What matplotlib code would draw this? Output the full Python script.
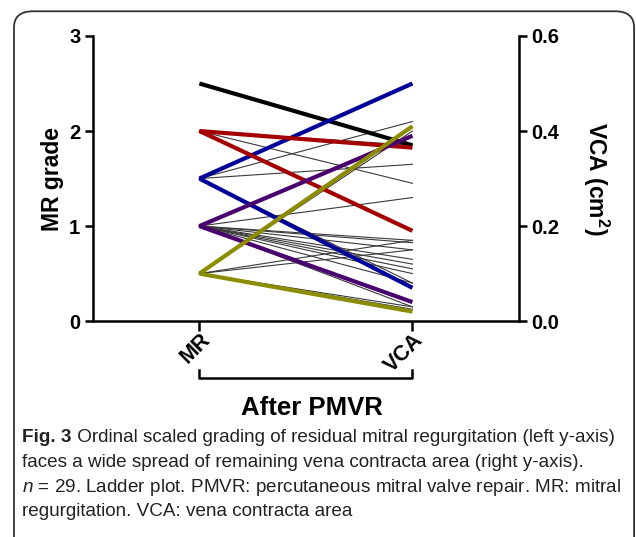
import numpy as np
import matplotlib
matplotlib.use("agg")
import matplotlib.pyplot as plt
from matplotlib.patches import FancyBboxPatch

# MR grade (left axis) -> VCA in cm^2 (right axis), one row per patient
thick_mr = [2.5, 1.5, 1.5, 2.0, 2.0, 1.0, 1.0, 0.5, 0.5]
thick_vca = [0.37, 0.50, 0.07, 0.365, 0.19, 0.39, 0.04, 0.41, 0.02]
thick_colors = ["#000000", "#000099", "#000099", "#a50000", "#a50000",
                "#4b0070", "#4b0070", "#8c8c00", "#8c8c00"]

thin_mr = [2.0, 2.0, 1.5, 1.5, 1.5, 1.0, 1.0, 1.0, 1.0, 1.0, 1.0, 1.0, 1.0, 1.0, 1.0,
           0.5, 0.5, 0.5, 0.5, 0.5]
thin_vca = [0.29, 0.37, 0.42, 0.33, 0.08, 0.26, 0.17, 0.165, 0.15, 0.13, 0.12, 0.11,
            0.10, 0.08, 0.03, 0.40, 0.17, 0.15, 0.03, 0.025]

categories = ["MR", "VCA"]
mr_ticks = [0, 1, 2, 3]
vca_ticks = [0.0, 0.2, 0.4, 0.6]
MR_MAX, VCA_MAX = 3.0, 0.6

fig_label = "Fig. 3"
caption = [
    " Ordinal scaled grading of residual mitral regurgitation (left y-axis)",
    "faces a wide spread of remaining vena contracta area (right y-axis).",
    r"$\it{n}$ = 29. Ladder plot. PMVR: percutaneous mitral valve repair. MR: mitral",
    "regurgitation. VCA: vena contracta area",
]

plt.rcParams["font.family"] = ["Liberation Sans", "DejaVu Sans"]
plt.rcParams.update({
    "mathtext.fontset": "custom",
    "mathtext.rm": "Liberation Sans",
    "mathtext.it": "Liberation Sans:italic",
    "mathtext.bf": "Liberation Sans:bold"})

fig = plt.figure(figsize=(6.36, 5.37), dpi=100)
ax = fig.add_axes([0.146, 0.402, 0.670, 0.531])
ax2 = ax.twinx()

k = MR_MAX / VCA_MAX
for mr, vca in zip(thin_mr, thin_vca):
    ax.plot([0, 1], [mr, vca * k], color="#3a3a3a", lw=0.8, zorder=2)
for mr, vca, c in zip(thick_mr, thick_vca, thick_colors):
    ax.plot([0, 1], [mr, vca * k], color=c, lw=3.0, zorder=3, solid_capstyle="butt")

ax.set_xlim(-0.5, 1.5)
ax.set_ylim(0, MR_MAX)
ax2.set_ylim(0, VCA_MAX)

for a in (ax, ax2):
    a.spines["top"].set_visible(False)
    for s in a.spines.values():
        s.set_linewidth(1.8)
ax.spines["right"].set_visible(False)
ax2.spines["left"].set_visible(False)
ax2.spines["bottom"].set_visible(False)

ax.set_yticks(mr_ticks)
ax.set_yticklabels([str(t) for t in mr_ticks], fontsize=14.5, fontweight="bold")
ax2.set_yticks(vca_ticks)
ax2.set_yticklabels([f"{t:.1f}" for t in vca_ticks], fontsize=14.5, fontweight="bold")
ax.tick_params(axis="y", length=6, width=1.8, pad=3)
ax2.tick_params(axis="y", length=6, width=1.8, pad=3)

ax.set_xticks([0, 1])
ax.set_xticklabels(categories, fontsize=15.5, fontweight="bold", rotation=45,
                   ha="right", rotation_mode="anchor")
ax.tick_params(axis="x", length=7, width=1.8, pad=-1)

ax.set_ylabel("MR grade", fontsize=16.5, fontweight="bold", labelpad=4)
ax2.set_ylabel("VCA (cm$^\\mathbf{2}$)", fontsize=16.5, fontweight="bold",
               rotation=270, labelpad=37)

# bracket under the category labels
tr = ax.get_xaxis_transform()
ax.plot([0, 0, 1, 1], [-0.172, -0.2, -0.2, -0.172], color="black", lw=1.8,
        transform=tr, clip_on=False)
ax.text(0.53, -0.305, "After PMVR", transform=tr, ha="center", va="center",
        fontsize=18.5, fontweight="bold")

# caption, "Fig. 3" in bold followed by the rest of the first line
y0 = 0.185
x0 = 0.035
renderer = fig.canvas.get_renderer()
t = fig.text(x0, y0, fig_label, fontsize=13.6, fontweight="bold", ha="left",
             va="center", color="#222222")
w = t.get_window_extent(renderer).width / fig.bbox.width
for i, line in enumerate(caption):
    fig.text(x0 + (w if i == 0 else 0), y0 - i * 0.046, line, fontsize=13.6,
             ha="left", va="center", color="#222222")

# rounded frame
frame = FancyBboxPatch((0.022, -0.1), 0.975, 1.079,
                       boxstyle="round,pad=0,rounding_size=0.03",
                       transform=fig.transFigure, fill=False,
                       edgecolor="#333333", lw=1.3, clip_on=False)
fig.patches.append(frame)

fig.savefig("out.png", dpi=100)
